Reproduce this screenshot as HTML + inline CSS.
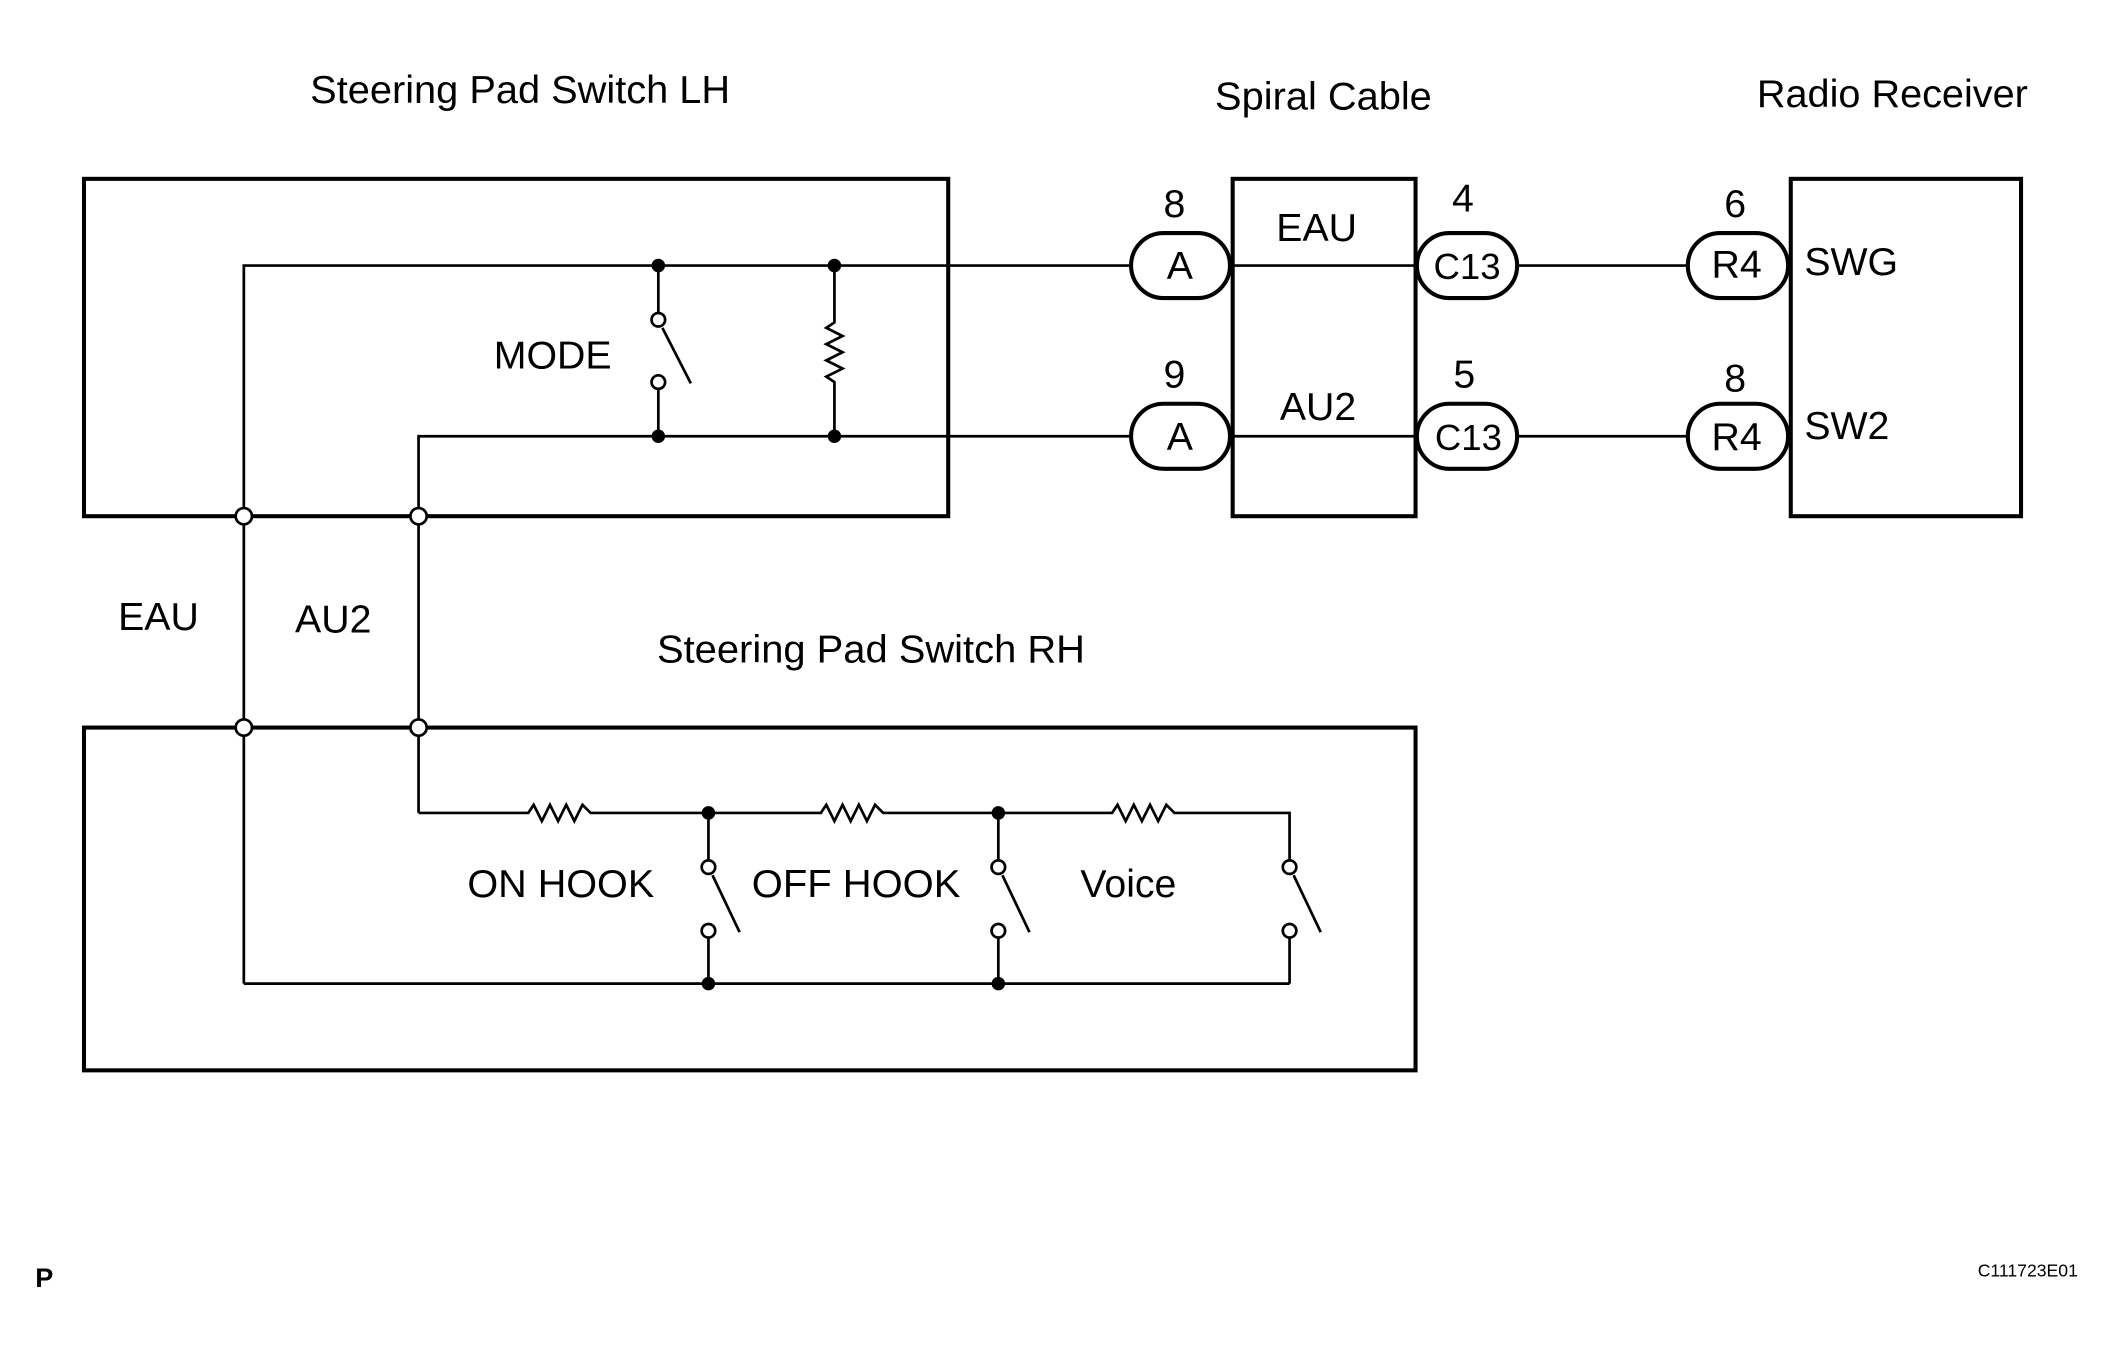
<!DOCTYPE html>
<html><head><style>html,body{margin:0;padding:0;background:#fff}svg{display:block}</style></head><body>
<svg width="2124" height="1363" viewBox="0 0 1568 1006" preserveAspectRatio="none" xmlns="http://www.w3.org/2000/svg" font-family="Liberation Sans, sans-serif">
<g fill="none" stroke="#000">
<rect x="62" y="132" width="638" height="249" stroke-width="3"/>
<rect x="910" y="132" width="135" height="249" stroke-width="3"/>
<rect x="1322" y="132" width="170" height="249" stroke-width="3"/>
<rect x="62" y="537" width="983" height="253" stroke-width="3"/>
<g stroke-width="2">
<polyline points="180,726 180,196 835,196"/>
<polyline points="309,600 309,322 835,322"/>
<line x1="908" y1="196" x2="1046" y2="196"/>
<line x1="908" y1="322" x2="1046" y2="322"/>
<line x1="1120" y1="196" x2="1246" y2="196"/>
<line x1="1120" y1="322" x2="1246" y2="322"/>
<line x1="486" y1="196" x2="486" y2="231"/><line x1="486" y1="287" x2="486" y2="322"/>
<line x1="489" y1="242" x2="510" y2="283"/>
<polyline points="616,196 616,238 610,242 622,248 610,254 622,260 610,266 622,272 610,278 616,282 616,322"/>
<polyline points="309,600 390,600 394,594 400,606 406,594 412,606 418,594 424,606 430,594 436,600 523,600"/>
<polyline points="523,600 606,600 610,594 616,606 622,594 628,606 634,594 640,606 646,594 652,600 737,600"/>
<polyline points="737,600 821,600 825,594 831,606 837,594 843,606 849,594 855,606 861,594 867,600 952,600 952,635"/>
<line x1="180" y1="726" x2="952" y2="726"/>
<line x1="523" y1="600" x2="523" y2="635"/><line x1="523" y1="692" x2="523" y2="726"/>
<line x1="526" y1="646" x2="546" y2="688"/>
<line x1="737" y1="600" x2="737" y2="635"/><line x1="737" y1="692" x2="737" y2="726"/>
<line x1="740" y1="646" x2="760" y2="688"/>
<line x1="952" y1="692" x2="952" y2="726"/>
<line x1="955" y1="646" x2="975" y2="688"/>
<circle cx="486" cy="236" r="5" fill="#fff"/><circle cx="486" cy="282" r="5" fill="#fff"/>
<circle cx="523" cy="640" r="5" fill="#fff"/><circle cx="523" cy="687" r="5" fill="#fff"/>
<circle cx="737" cy="640" r="5" fill="#fff"/><circle cx="737" cy="687" r="5" fill="#fff"/>
<circle cx="952" cy="640" r="5" fill="#fff"/><circle cx="952" cy="687" r="5" fill="#fff"/>
<circle cx="180" cy="381" r="6" fill="#fff"/><circle cx="309" cy="381" r="6" fill="#fff"/>
<circle cx="180" cy="537" r="6" fill="#fff"/><circle cx="309" cy="537" r="6" fill="#fff"/>
</g>
<g stroke-width="3" fill="#fff">
<rect x="835" y="172" width="73" height="48" rx="24"/>
<rect x="835" y="298" width="73" height="48" rx="24"/>
<rect x="1046" y="172" width="74" height="48" rx="24"/>
<rect x="1046" y="298" width="74" height="48" rx="24"/>
<rect x="1246" y="172" width="74" height="48" rx="24"/>
<rect x="1246" y="298" width="74" height="48" rx="24"/>
</g>
</g>
<g fill="#000">
<circle cx="486" cy="196" r="5"/><circle cx="616" cy="196" r="5"/>
<circle cx="486" cy="322" r="5"/><circle cx="616" cy="322" r="5"/>
<circle cx="523" cy="600" r="5"/><circle cx="737" cy="600" r="5"/>
<circle cx="523" cy="726" r="5"/><circle cx="737" cy="726" r="5"/>
</g>
<g font-size="29" text-anchor="middle" fill="#000">
<text x="384" y="76" textLength="310" lengthAdjust="spacingAndGlyphs">Steering Pad Switch LH</text>
<text x="977" y="81" textLength="160" lengthAdjust="spacingAndGlyphs">Spiral Cable</text>
<text x="1397" y="79" textLength="200" lengthAdjust="spacingAndGlyphs">Radio Receiver</text>
<text x="408" y="272">MODE</text>
<text x="867" y="160">8</text><text x="867" y="286">9</text>
<text x="1080" y="156">4</text><text x="1081" y="286">5</text>
<text x="1281" y="160">6</text><text x="1281" y="289">8</text>
<text x="972" y="178">EAU</text><text x="973" y="310">AU2</text>
<text x="871" y="206">A</text><text x="871" y="332">A</text>
<text x="1083" y="206" font-size="27">C13</text><text x="1084" y="332" font-size="27">C13</text>
<text x="1282" y="205">R4</text><text x="1282" y="332">R4</text>
<text x="117" y="465">EAU</text><text x="246" y="467">AU2</text>
<text x="643" y="489" textLength="316" lengthAdjust="spacingAndGlyphs">Steering Pad Switch RH</text>
<text x="414" y="662" textLength="138" lengthAdjust="spacingAndGlyphs">ON HOOK</text><text x="632" y="662" textLength="154" lengthAdjust="spacingAndGlyphs">OFF HOOK</text><text x="833" y="662">Voice</text>
</g>
<g font-size="29" fill="#000"><text x="1332" y="203">SWG</text><text x="1332" y="324">SW2</text></g>
<text x="26" y="950" font-size="20" font-weight="bold">P</text>
<text x="1460" y="942" font-size="13">C111723E01</text>
</svg>
</body></html>
